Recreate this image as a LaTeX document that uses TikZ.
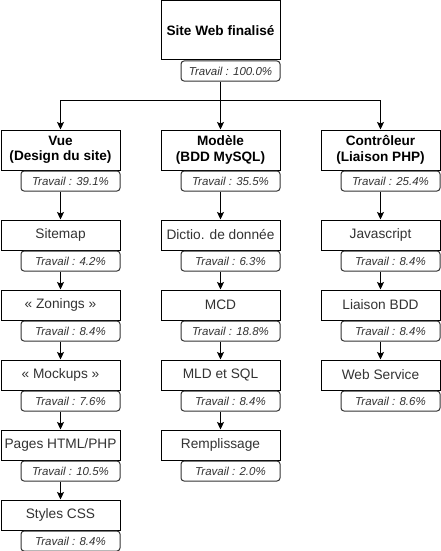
\documentclass[tikz,border=0pt]{standalone}
\usepackage{fontspec}
\setmainfont{Liberation Sans}
\usetikzlibrary{arrows.meta}
\definecolor{txtgray}{HTML}{333333}
\tikzset{
  box/.style={draw, line width=1pt, fill=white, minimum width=119pt, minimum height=30pt,
    inner sep=0pt, text=txtgray, font=\fontsize{13.7}{16}\selectfont},
  head/.style={box, text=black, align=center, font=\bfseries\fontsize{13.6}{15.5}\selectfont},
  lbl/.style={draw=txtgray, line width=1pt, rounded corners=3pt, fill=white, minimum width=99pt,
    minimum height=20pt, inner sep=0pt, anchor=north east, text=txtgray,
    font=\itshape\fontsize{11.5}{13}\selectfont},
  arr/.style={line width=1pt, -{Stealth[length=7.5pt,width=7pt,inset=1.5pt]}}
}
\begin{document}
\begin{tikzpicture}[x=1pt,y=-1pt]
      \useasboundingbox (0,0) rectangle (441,551);
      \draw
        (220.5,30.25) node[head, minimum height=59.5pt] (site){Site Web finalisé}
        (60.5,150) node[head, minimum height=40pt] (vue){Vue\\(Design du site)}
        (220.5,150) node[head, minimum height=40pt] (modele){Modèle\\(BDD MySQL)}
        (380.5,150) node[head, minimum height=40pt] (ctrl){Contrôleur\\(Liaison PHP)}
        (60.5,235) node[box] (sitemap){Sitemap}
        (60.5,305) node[box] (zonings){« Zonings »}
        (60.5,375) node[box] (mockups){« Mockups »}
        (60.5,445) node[box] (pages){Pages HTML/PHP}
        (60.5,515) node[box] (css){Styles CSS}
        (220.5,235) node[box] (dico){Dictio. de donnée}
        (220.5,305) node[box] (mcd){MCD}
        (220.5,375) node[box] (mld){MLD et SQL}
        (220.5,445) node[box] (remp){Remplissage}
        (380.5,235) node[box] (js){Javascript}
        (380.5,305) node[box] (liaison){Liaison BDD}
        (380.5,375) node[box] (ws){Web Service};
      \draw
        (site.south east) node[lbl] (lsite){Travail : 100.0\%}
        (vue.south east) node[lbl] (lvue){Travail : 39.1\%}
        (modele.south east) node[lbl] (lmodele){Travail : 35.5\%}
        (ctrl.south east) node[lbl] (lctrl){Travail : 25.4\%}
        (sitemap.south east) node[lbl] (lsitemap){Travail : 4.2\%}
        (zonings.south east) node[lbl] (lzonings){Travail : 8.4\%}
        (mockups.south east) node[lbl] (lmockups){Travail : 7.6\%}
        (pages.south east) node[lbl] (lpages){Travail : 10.5\%}
        (css.south east) node[lbl] (lcss){Travail : 8.4\%}
        (dico.south east) node[lbl] (ldico){Travail : 6.3\%}
        (mcd.south east) node[lbl] (lmcd){Travail : 18.8\%}
        (mld.south east) node[lbl] (lmld){Travail : 8.4\%}
        (remp.south east) node[lbl] (lremp){Travail : 2.0\%}
        (js.south east) node[lbl] (ljs){Travail : 8.4\%}
        (liaison.south east) node[lbl] (lliaison){Travail : 8.4\%}
        (ws.south east) node[lbl] (lws){Travail : 8.6\%};
      \coordinate (split) at (220.5,100);
      \begin{scope}[arr]
        \draw[-] (site.south |- lsite.south) to (split);
        \draw (split) -| (vue);
        \draw (split) to (modele);
        \draw (split) -| (ctrl);
        \draw (vue.south |- lvue.south) to (sitemap);
        \draw (sitemap.south |- lsitemap.south) to (zonings);
        \draw (zonings.south |- lzonings.south) to (mockups);
        \draw (mockups.south |- lmockups.south) to (pages);
        \draw (pages.south |- lpages.south) to (css);
        \draw (modele.south |- lmodele.south) to (dico);
        \draw (dico.south |- ldico.south) to (mcd);
        \draw (mcd.south |- lmcd.south) to (mld);
        \draw (mld.south |- lmld.south) to (remp);
        \draw (ctrl.south |- lctrl.south) to (js);
        \draw (js.south |- ljs.south) to (liaison);
        \draw (liaison.south |- lliaison.south) to (ws);
      \end{scope}
    \end{tikzpicture}
\end{document}
